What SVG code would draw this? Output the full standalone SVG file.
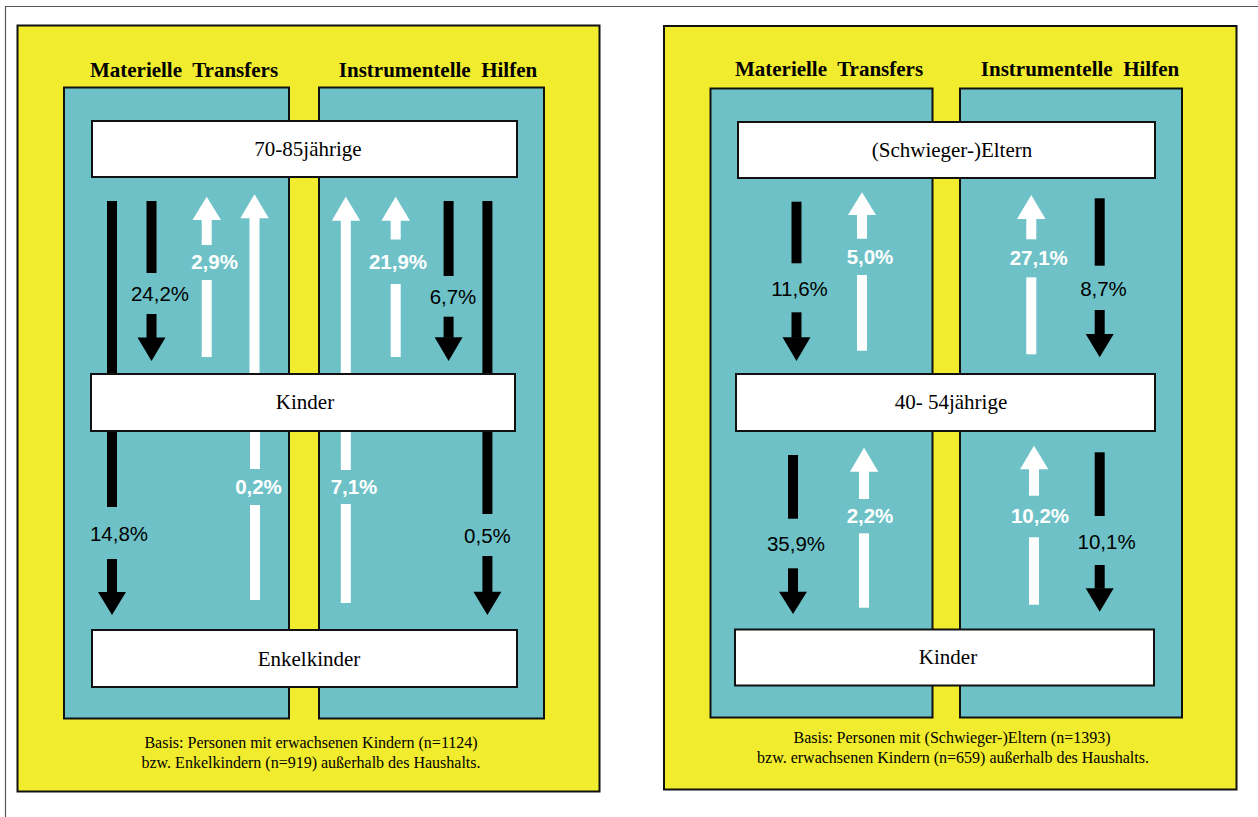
<svg xmlns="http://www.w3.org/2000/svg" width="1258" height="817" viewBox="0 0 1258 817">
<style>
.frame{fill:none;stroke:#555;stroke-width:1.2}
.panel{fill:#F2EC2E;stroke:#111;stroke-width:2}
.col{fill:#6EC2C7;stroke:#111;stroke-width:2}
.box{fill:#fff;stroke:#111;stroke-width:2}
.hdr{font-family:"Liberation Serif","Times New Roman",serif;font-weight:bold;font-size:21px;fill:#000;text-anchor:middle;white-space:pre}
.lbl{font-family:"Liberation Serif","Times New Roman",serif;font-size:21px;fill:#000;text-anchor:middle}
.note{font-family:"Liberation Serif","Times New Roman",serif;font-size:16px;fill:#000;text-anchor:middle}
.blk{fill:#000}
.wht{fill:#fff}
.pb{font-family:"Liberation Sans",Arial,sans-serif;font-size:20.5px;fill:#000;text-anchor:middle}
.pw{font-family:"Liberation Sans",Arial,sans-serif;font-size:20.5px;font-weight:bold;fill:#fff;text-anchor:middle}
</style>
<rect width="1258" height="817" fill="#fff"/>
<path class="frame" d="M5.5,817 V6.5 H1258"/>

<g id="panel-left">
<rect class="panel" x="17.5" y="25.5" width="582" height="766"/>
<rect class="col" x="64" y="87.5" width="225" height="631"/>
<rect class="col" x="319" y="87.5" width="225" height="631"/>
<text class="hdr" x="184" y="77">Materielle  Transfers</text>
<text class="hdr" x="438" y="77">Instrumentelle  Hilfen</text>
<text class="note" x="311" y="748">Basis: Personen mit erwachsenen Kindern (n=1124)</text>
<text class="note" x="311" y="768">bzw. Enkelkindern (n=919) außerhalb des Haushalts.</text>
</g>

<g id="panel-right">
<rect class="panel" x="664" y="26" width="572.5" height="763.5"/>
<rect class="col" x="710.5" y="88.5" width="222" height="629"/>
<rect class="col" x="960" y="88.5" width="222" height="629"/>
<text class="hdr" x="829" y="76">Materielle  Transfers</text>
<text class="hdr" x="1080" y="76">Instrumentelle  Hilfen</text>
<text class="note" x="952" y="743">Basis: Personen mit (Schwieger-)Eltern (n=1393)</text>
<text class="note" x="953" y="763">bzw. erwachsenen Kindern (n=659) außerhalb des Haushalts.</text>
</g>

<g id="connectors">
<!-- left panel -->
<g id="a-148">
<rect class="blk" x="107" y="201" width="10" height="172"/>
<rect class="blk" x="107" y="432" width="10" height="75"/>
<text class="pb" x="119" y="541">14,8%</text>
<rect class="blk" x="107" y="559" width="10" height="34"/>
<polygon class="blk" points="98,592 126,592 112,615"/>
</g>
<g id="a-242">
<rect class="blk" x="146.5" y="201" width="10" height="72"/>
<text class="pb" x="160" y="301">24,2%</text>
<rect class="blk" x="146.5" y="314" width="10" height="24"/>
<polygon class="blk" points="137.5,337.5 165.5,337.5 151.5,361"/>
</g>
<g id="a-29">
<polygon class="wht" points="192.5,220 221,220 206.7,196.7"/>
<rect class="wht" x="201.7" y="219" width="10" height="26"/>
<text class="pw" x="214.6" y="269.3">2,9%</text>
<rect class="wht" x="201.7" y="280" width="10" height="77"/>
</g>
<g id="a-02">
<polygon class="wht" points="240.3,218.3 268.8,218.3 254.5,194.3"/>
<rect class="wht" x="249.5" y="217" width="10" height="156"/>
<rect class="wht" x="250" y="432" width="10" height="37"/>
<text class="pw" x="258.5" y="494">0,2%</text>
<rect class="wht" x="250" y="505" width="10" height="95"/>
</g>
<g id="a-71">
<polygon class="wht" points="331.8,220.7 360.3,220.7 345.8,196.7"/>
<rect class="wht" x="340.8" y="219" width="10" height="154"/>
<rect class="wht" x="340.8" y="432" width="10" height="38"/>
<text class="pw" x="354" y="494">7,1%</text>
<rect class="wht" x="340.8" y="504" width="10" height="99"/>
</g>
<g id="a-219">
<polygon class="wht" points="381.4,220.7 410,220.7 395.7,196.7"/>
<rect class="wht" x="390.7" y="219" width="10" height="20.5"/>
<text class="pw" x="398" y="269.3">21,9%</text>
<rect class="wht" x="390.7" y="284" width="10" height="73"/>
</g>
<g id="a-67">
<rect class="blk" x="443.6" y="201" width="10" height="75"/>
<text class="pb" x="453" y="304">6,7%</text>
<rect class="blk" x="443.6" y="316.7" width="10" height="21"/>
<polygon class="blk" points="434.6,337.3 462.6,337.3 448.6,361"/>
</g>
<g id="a-05">
<rect class="blk" x="482.4" y="201" width="10" height="172"/>
<rect class="blk" x="482.4" y="432" width="10" height="82"/>
<text class="pb" x="487.4" y="543">0,5%</text>
<rect class="blk" x="482.4" y="556" width="10" height="36.5"/>
<polygon class="blk" points="473.4,591.7 501.4,591.7 487.4,615"/>
</g>
<!-- right panel -->
<g id="b-116">
<rect class="blk" x="791.5" y="201.7" width="10" height="61.6"/>
<text class="pb" x="799.5" y="296">11,6%</text>
<rect class="blk" x="791.5" y="312.3" width="10" height="25.5"/>
<polygon class="blk" points="782.5,337.3 810.5,337.3 796.5,361"/>
</g>
<g id="b-50">
<polygon class="wht" points="848,215 876,215 862,192.3"/>
<rect class="wht" x="857" y="214" width="10" height="24.7"/>
<text class="pw" x="870" y="264.3">5,0%</text>
<rect class="wht" x="857" y="275" width="10" height="75.7"/>
</g>
<g id="b-271">
<polygon class="wht" points="1017,219 1045.5,219 1031.3,195"/>
<rect class="wht" x="1026.3" y="218" width="10" height="21.3"/>
<text class="pw" x="1038.8" y="265">27,1%</text>
<rect class="wht" x="1026.3" y="277.3" width="10" height="77"/>
</g>
<g id="b-87">
<rect class="blk" x="1094.7" y="198.3" width="10" height="67.4"/>
<text class="pb" x="1103.5" y="296">8,7%</text>
<rect class="blk" x="1094.7" y="310" width="10" height="24.5"/>
<polygon class="blk" points="1085.7,334 1113.7,334 1099.7,357.3"/>
</g>
<g id="b-359">
<rect class="blk" x="788" y="455" width="10" height="63.7"/>
<text class="pb" x="796" y="550.7">35,9%</text>
<rect class="blk" x="788" y="568.3" width="10" height="23.8"/>
<polygon class="blk" points="779,591.7 807,591.7 793,614"/>
</g>
<g id="b-22">
<polygon class="wht" points="850,471.7 878.3,471.7 864,447.7"/>
<rect class="wht" x="859" y="470.7" width="10" height="28.3"/>
<text class="pw" x="870" y="523.3">2,2%</text>
<rect class="wht" x="859" y="533.3" width="10" height="74.4"/>
</g>
<g id="b-102">
<polygon class="wht" points="1020,469.3 1048.3,469.3 1034,445.7"/>
<rect class="wht" x="1029" y="468.3" width="10" height="27.4"/>
<text class="pw" x="1040" y="523.3">10,2%</text>
<rect class="wht" x="1029" y="537.3" width="10" height="67.4"/>
</g>
<g id="b-101">
<rect class="blk" x="1094.7" y="452.3" width="10" height="63.7"/>
<text class="pb" x="1106.6" y="549">10,1%</text>
<rect class="blk" x="1094.7" y="565" width="10" height="23.7"/>
<polygon class="blk" points="1085.7,588.3 1113.7,588.3 1099.7,611.7"/>
</g>
</g>

<g id="node-70-85">
<rect class="box" x="92" y="121" width="425" height="56"/>
<text class="lbl" x="308" y="156">70-85jährige</text>
</g>
<g id="node-kinder-left">
<rect class="box" x="91" y="374" width="424" height="57"/>
<text class="lbl" x="305" y="409">Kinder</text>
</g>
<g id="node-enkelkinder">
<rect class="box" x="92" y="630" width="425" height="57"/>
<text class="lbl" x="309" y="666">Enkelkinder</text>
</g>
<g id="node-schwiegereltern">
<rect class="box" x="738" y="122" width="417" height="56"/>
<text class="lbl" x="952" y="157">(Schwieger-)Eltern</text>
</g>
<g id="node-40-54">
<rect class="box" x="736" y="374" width="419" height="57"/>
<text class="lbl" x="951" y="409">40- 54jährige</text>
</g>
<g id="node-kinder-right">
<rect class="box" x="735" y="629.5" width="419" height="56"/>
<text class="lbl" x="948" y="664">Kinder</text>
</g>
</svg>
